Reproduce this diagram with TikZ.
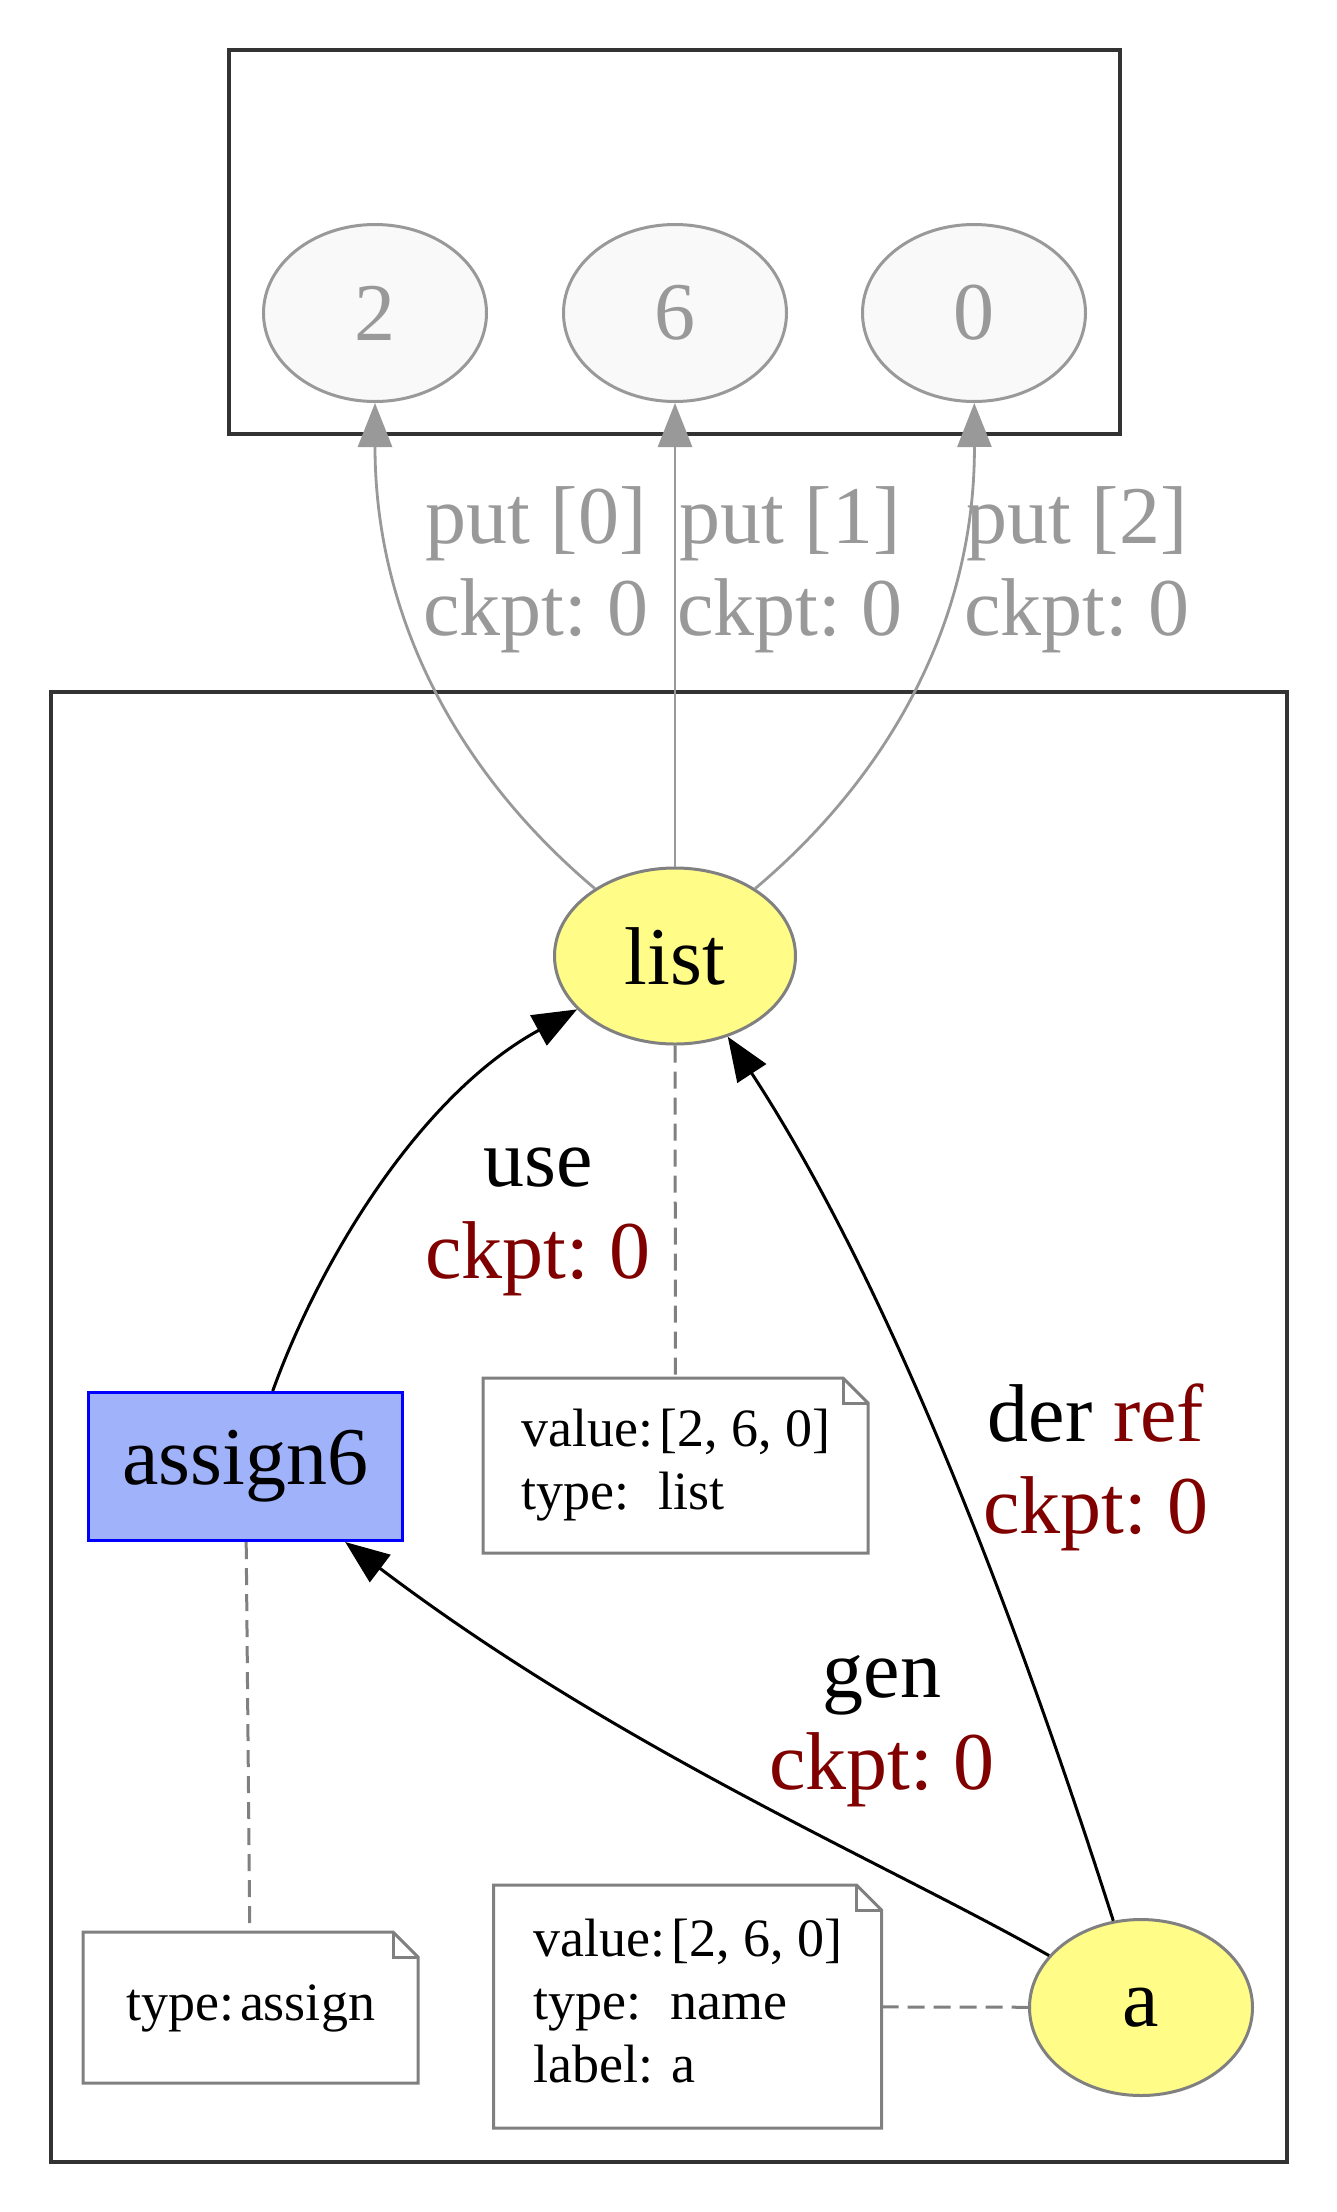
\documentclass[tikz,border=0pt]{standalone}
\usepackage{fontspec}
\setmainfont{Liberation Serif}
\usetikzlibrary{arrows.meta}
\usetikzlibrary{shapes.geometric}
\definecolor{lgrey}{RGB}{153,153,153}
\definecolor{mgrey}{RGB}{128,128,128}
\definecolor{dgrey}{RGB}{51,51,51}
\definecolor{vfill}{RGB}{249,249,249}
\definecolor{nyellow}{RGB}{255,252,136}
\definecolor{nblue}{RGB}{160,178,250}
\definecolor{dred}{RGB}{128,0,0}
\frenchspacing
\newcommand{\bigfont}{\fontsize{82}{92}\selectfont}
\newcommand{\notefont}{\fontsize{54}{63}\selectfont}
\newcommand{\drawnote}[1]{%
  \draw[noteline] (#1.north west) -- ([xshift=-25pt]#1.north east) -- ([yshift=-25pt]#1.north east) -- (#1.south east) -- (#1.south west) -- cycle;
  \draw[noteline] ([xshift=-25pt]#1.north east) |- ([yshift=-25pt]#1.north east);}

\begin{document}
\begin{tikzpicture}[x=1pt,y=-1pt,->,>={Triangle[length=44pt,width=34pt]},line width=3pt]
      \tikzstyle{every node}=[font=\bigfont,inner sep=0pt]
      \tikzstyle{cluster}=[-,draw=dgrey,line width=3.2pt]
      \tikzstyle{valnode}=[ellipse,draw=lgrey,fill=vfill,text=lgrey,line width=3pt,minimum width=223pt,minimum height=177pt]
      \tikzstyle{varnode}=[ellipse,draw=mgrey,fill=nyellow,line width=3pt,minimum height=176pt]
      \tikzstyle{opnode}=[rectangle,draw=blue,fill=nblue,line width=3pt,minimum width=314pt,minimum height=148pt]
      \tikzstyle{note}=[rectangle,font=\notefont]
      \tikzstyle{noteline}=[-,draw=mgrey,line width=3pt]
      \tikzstyle{gedge}=[draw=lgrey,line width=2.8pt]
      \tikzstyle{bedge}=[draw=black]
      \tikzstyle{dedge}=[-,draw=mgrey,line width=3pt,dash pattern=on 17pt off 9pt]
      \tikzstyle{glabel}=[text=lgrey,align=center]
      \tikzstyle{blabel}=[align=center]

      \path[use as bounding box,fill=white] (0,0) rectangle (1337,2212);

      % clusters
      \draw[cluster] (229,50) rectangle (1120,434);
      \draw[cluster] (51,692) rectangle (1287,2162);

      % nodes
      \node[valnode]				(n2)	at (375,313)	{2};
      \node[valnode]				(n6)	at (675,313)	{6};
      \node[valnode]				(n0)	at (974,313)	{0};
      \node[varnode,minimum width=241pt]	(list)	at (675,956)	{list};
      \node[opnode]				(assign6) at (245.5,1466.5) {assign6};
      \node[varnode,minimum width=223pt]	(a)	at (1141,2007.5) {a};

      \node[note,minimum width=382pt,minimum height=172pt] (notelist) at (675.5,1465.5)
        {\begin{tabular}{@{}l@{\hspace{6pt}}l@{}}value: & [2, 6, 0]\\ type: & list\end{tabular}};
      \node[note,minimum width=332pt,minimum height=148pt] (noteassign) at (250.5,2007.5)
        {\begin{tabular}{@{}l@{\hspace{6pt}}l@{}}type: & assign\end{tabular}};
      \node[note,minimum width=385pt,minimum height=240pt] (notea) at (687.5,2006.5)
        {\begin{tabular}{@{}l@{\hspace{6pt}}l@{}}value: & [2, 6, 0]\\ type: & name\\ label: & a\end{tabular}};
      \drawnote{notelist}
      \drawnote{noteassign}
      \drawnote{notea}

      % edges
      \draw[gedge] (list) .. controls (460,775) and (375,620) .. (n2);
      \draw[gedge] (list) -- (n6);
      \draw[gedge] (list) .. controls (890,775) and (975,620) .. (n0);
      \draw[bedge] (assign6) .. controls (320,1260) and (420,1095) .. (list);
      \draw[bedge] (a) .. controls (1030,1660) and (900,1300) .. (list);
      \draw[bedge] (a) .. controls (880,1860) and (620,1750) .. (assign6);
      \draw[dedge] (list) -- (notelist);
      \draw[dedge] (assign6) -- (noteassign);
      \draw[dedge] (notea) -- (a);

      % labels
      \node[glabel] (lput0) at (536,570)  {put [0]\\ckpt: 0};
      \node[glabel] (lput1) at (790,570)  {put [1]\\ckpt: 0};
      \node[glabel] (lput2) at (1077,570) {put [2]\\ckpt: 0};
      \node[blabel] (luse)  at (538,1222) {use\\\textcolor{dred}{ckpt: 0}};
      \node[blabel] (lder)  at (1096,1467) {der \textcolor{dred}{ref}\\\textcolor{dred}{ckpt: 0}};
      \node[blabel] (lgen)  at (882,1731) {gen\\\textcolor{dred}{ckpt: 0}};

\end{tikzpicture}
\end{document}
